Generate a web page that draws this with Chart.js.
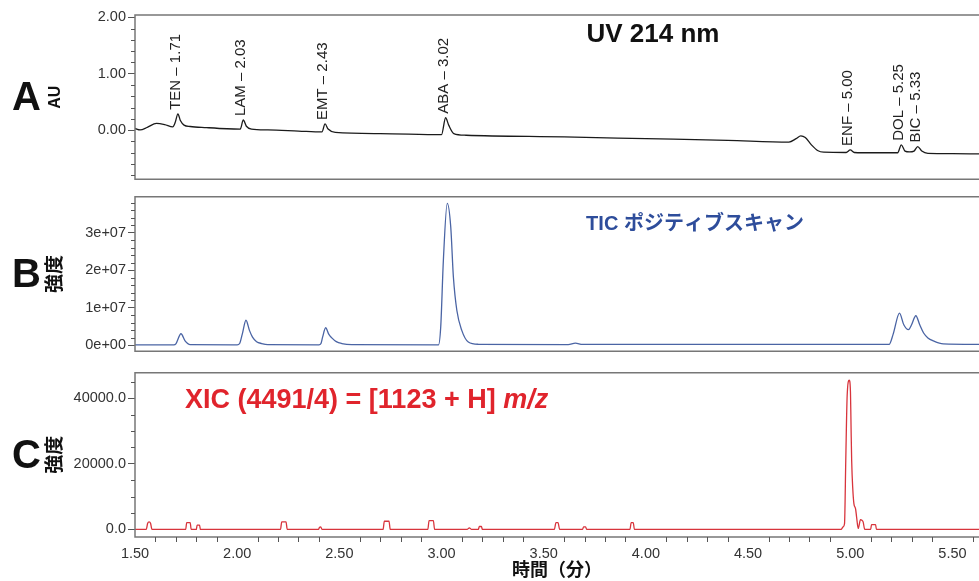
<!DOCTYPE html>
<html lang="ja">
<head>
<meta charset="utf-8">
<script src="https://cdn.jsdelivr.net/npm/chart.js@4.4.1/dist/chart.umd.min.js"></script>
<style>
  html, body { margin: 0; padding: 0; background: #fff; }
  body { width: 979px; height: 581px; position: relative; overflow: hidden; }
  canvas { position: absolute; left: 0; }
  #panel-a { top: 0; }
  #panel-b { top: 186px; }
  #panel-c { top: 362px; }
</style>
</head>
<body>
<canvas id="panel-a" width="979" height="190"></canvas>
<canvas id="panel-b" width="979" height="176"></canvas>
<canvas id="panel-c" width="979" height="219"></canvas>
<script>
/* -------------------------------------------------- */
/* Chromatogram panels -- UV / TIC / XIC              */
/* -------------------------------------------------- */

const LATIN = "'Liberation Sans', Arial, sans-serif";
const CJK   = "'Liberation Sans', 'Noto Sans CJK JP', sans-serif";

Chart.defaults.font.family = LATIN;
Chart.defaults.color       = '#333';

// shared retention-time axis (min)
const X_MIN = 1.5;
const X_MAX = 5.63;
const X_TICKS  = [1.5, 2.0, 2.5, 3.0, 3.5, 4.0, 4.5, 5.0, 5.5];
const X_LABELS = ['1.50', '2.00', '2.50', '3.00', '3.50', '4.00', '4.50', '5.00', '5.50'];

// A: UV 214 nm trace
const UV_TIME = [1.50, 1.525, 1.56, 1.605, 1.645, 1.685, 1.697, 1.71, 1.722, 1.74, 1.77, 1.85, 1.95,
  2.015, 2.03, 2.045, 2.07, 2.15, 2.30, 2.415, 2.43, 2.445, 2.48, 2.70, 3.00, 3.02, 3.035, 3.06, 3.12,
  3.60, 4.00, 4.40, 4.70, 4.735, 4.758, 4.78, 4.81, 4.84, 4.87, 4.98, 5.00, 5.02, 5.06, 5.232, 5.25,
  5.268, 5.29, 5.312, 5.33, 5.35, 5.38, 5.50, 5.63];
const UV_AU = [0.03, 0.005, 0.05, 0.12, 0.10, 0.06, 0.14, 0.29, 0.17, 0.09, 0.065, 0.045, 0.025,
  0.02, 0.18, 0.07, 0.02, 0.005, -0.015, -0.03, 0.11, 0.02, -0.04, -0.06, -0.08, 0.22, 0.09, -0.06, -0.09,
  -0.12, -0.15, -0.18, -0.21, -0.15, -0.10, -0.13, -0.26, -0.36, -0.39, -0.395, -0.35, -0.395, -0.40, -0.40, -0.26,
  -0.37, -0.385, -0.37, -0.29, -0.37, -0.41, -0.415, -0.42];
const UV_PEAK_NAMES = ['TEN', 'LAM', 'EMT', 'ABA', 'ENF', 'DOL', 'BIC'];
const UV_PEAK_RT    = [1.71, 2.03, 2.43, 3.02, 5.00, 5.25, 5.33];
const UV_Y_TICKS  = [0, 1, 2];
const UV_Y_LABELS = ['0.00', '1.00', '2.00'];

// B: TIC positive scan
const TIC_TIME = [1.50, 1.69, 1.70, 1.725, 1.745, 1.77, 2.00, 2.012, 2.025, 2.043, 2.06, 2.075, 2.095,
  2.12, 2.15, 2.40, 2.41, 2.418, 2.433, 2.448, 2.463, 2.485, 2.512, 2.56, 2.985, 2.996, 3.009, 3.028,
  3.045, 3.058, 3.075, 3.099, 3.131, 3.18, 3.62, 3.655, 3.69, 5.19, 5.21, 5.241, 5.262, 5.285, 5.30,
  5.321, 5.34, 5.359, 5.38, 5.407, 5.455, 5.63];
const TIC_INTENSITY = [0.015e7, 0.015e7, 0.04e7, 0.31e7, 0.12e7, 0.02e7, 0.015e7, 0.05e7, 0.30e7, 0.67e7,
  0.40e7, 0.22e7, 0.10e7, 0.05e7, 0.02e7, 0.015e7, 0.05e7, 0.22e7, 0.47e7, 0.30e7, 0.20e7, 0.10e7, 0.05e7,
  0.02e7, 0.015e7, 0.49e7, 2.27e7, 3.78e7, 3.16e7, 1.82e7, 0.93e7, 0.40e7, 0.09e7, 0.03e7, 0.02e7, 0.06e7,
  0.025e7, 0.025e7, 0.30e7, 0.86e7, 0.55e7, 0.42e7, 0.55e7, 0.79e7, 0.55e7, 0.33e7, 0.20e7, 0.12e7, 0.04e7,
  0.025e7];
const TIC_Y_TICKS  = [0, 1e7, 2e7, 3e7];
const TIC_Y_LABELS = ['0e+00', '1e+07', '2e+07', '3e+07'];

// C: XIC for m/z 1123 + H
const XIC_TIME = [
  1.50, 1.555, 1.562, 1.569, 1.576, 1.583,
  1.748, 1.753, 1.770, 1.775,
  1.800, 1.804, 1.816, 1.820,
  2.212, 2.218, 2.239, 2.245,
  2.398, 2.403, 2.409, 2.415,
  2.714, 2.720, 2.743, 2.749,
  2.933, 2.939, 2.960, 2.966,
  3.125, 3.136, 3.147,
  3.180, 3.185, 3.195, 3.200,
  3.552, 3.560, 3.570, 3.578,
  3.690, 3.695, 3.705, 3.710,
  3.922, 3.928, 3.938, 3.944,
  4.955, 4.965, 4.972, 4.978, 4.985, 4.995, 5.001, 5.004, 5.007, 5.012, 5.018, 5.026, 5.031, 5.039,
  5.050, 5.057, 5.063, 5.071,
  5.100, 5.104, 5.124, 5.128,
  5.63];
const XIC_INTENSITY = [
  0, 0, 1900, 2300, 1900, 0,
  0, 2100, 2100, 0,
  0, 1300, 1300, 0,
  0, 2300, 2300, 0,
  0, 700, 800, 0,
  0, 2500, 2500, 0,
  0, 2700, 2700, 0,
  0, 500, 0,
  0, 900, 900, 0,
  0, 2100, 2100, 0,
  0, 800, 800, 0,
  0, 2100, 2100, 0,
  0, 800, 1800, 20900, 41000, 45500, 42000, 30900, 20900, 12800, 7800, 6300, 3800, 300,
  3000, 2800, 2300, 0,
  0, 1500, 1500, 0,
  0];
const XIC_Y_TICKS  = [0, 20000, 40000];
const XIC_Y_LABELS = ['0.0', '20000.0', '40000.0'];

/* -------------------------------------------------- */
/* Helpers */
/* -------------------------------------------------- */

function points(xs, ys) {
  return xs.map((x, i) => ({ x, y: ys[i] }));
}

// evenly spaced minor positions, skipping the labelled ones
function minorSteps(from, to, step, majors) {
  const out = [];
  const n = Math.round((to - from) / step);
  for (let i = 0; i <= n; i++) {
    const v = from + i * step;
    if (!majors.some(m => Math.abs(m - v) < step / 10)) out.push(v);
  }
  return out;
}

// open frame: top, left and bottom edges (right edge runs off the page)
const framePlugin = {
  id: 'frame',
  afterDraw(chart) {
    const { ctx, chartArea: a } = chart;
    ctx.save();
    ctx.strokeStyle = '#777';
    ctx.lineWidth = 1.5;
    ctx.beginPath();
    ctx.moveTo(chart.width + 5, a.top);
    ctx.lineTo(a.left, a.top);
    ctx.lineTo(a.left, a.bottom);
    ctx.lineTo(chart.width + 5, a.bottom);
    ctx.stroke();
    ctx.restore();
  },
};

const minorTickPlugin = {
  id: 'minorTicks',
  afterDraw(chart, args, opts) {
    const { ctx, chartArea: a, scales } = chart;
    ctx.save();
    ctx.strokeStyle = '#555';
    ctx.lineWidth = 1;
    ctx.beginPath();
    (opts.y || []).forEach(v => {
      const py = Math.round(scales.y.getPixelForValue(v)) + 0.5;
      ctx.moveTo(a.left - 4, py);
      ctx.lineTo(a.left, py);
    });
    (opts.x || []).forEach(v => {
      const px = Math.round(scales.x.getPixelForValue(v)) + 0.5;
      ctx.moveTo(px, a.bottom);
      ctx.lineTo(px, a.bottom + 5);
    });
    ctx.stroke();
    ctx.restore();
  },
};

// panel letter, heading and peak annotations
const panelTextPlugin = {
  id: 'panelText',
  afterDraw(chart, args, o) {
    const { ctx, chartArea: a, scales } = chart;
    ctx.save();
    ctx.fillStyle = '#111';
    ctx.font = `bold 40px ${LATIN}`;
    ctx.textAlign = 'left';
    ctx.textBaseline = 'alphabetic';
    ctx.fillText(o.letter, 12, (a.top + a.bottom) / 2 + 13);

    if (o.heading) {
      const h = o.heading;
      ctx.fillStyle = h.color;
      ctx.textBaseline = 'alphabetic';
      const fonts = h.parts.map(p => `${p.italic ? 'italic ' : ''}bold ${h.size}px ${CJK}`);
      const widths = h.parts.map((p, i) => { ctx.font = fonts[i]; return ctx.measureText(p.text).width; });
      const total = widths.reduce((s, w) => s + w, 0);
      let x = h.align === 'center' ? h.x - total / 2 : h.x;
      h.parts.forEach((p, i) => {
        ctx.font = fonts[i];
        ctx.fillText(p.text, x, h.y);
        x += widths[i];
      });
    }

    (o.peaks || []).forEach(p => {
      const x = scales.x.getPixelForValue(p.rt) - 2;
      const y = scales.y.getPixelForValue(p.value) - 4;
      ctx.save();
      ctx.translate(x, y);
      ctx.rotate(-Math.PI / 2);
      ctx.fillStyle = '#222';
      ctx.font = `15px ${LATIN}`;
      ctx.textAlign = 'left';
      ctx.textBaseline = 'middle';
      ctx.fillText(`${p.name} – ${p.rt.toFixed(2)}`, 0, 0);
      ctx.restore();
    });
    ctx.restore();
  },
};

function yScale(cfg) {
  return {
    min: cfg.min,
    max: cfg.max,
    afterBuildTicks: s => { s.ticks = cfg.ticks.map(v => ({ value: v })); },
    afterFit: s => { s.width = 135 - cfg.padLeft; },
    ticks: {
      autoSkip: false,
      padding: 2,
      color: '#333',
      font: { size: 14.5 },
      callback: (v, i) => cfg.labels[i],
    },
    grid: { drawOnChartArea: false, drawTicks: true, tickLength: 7, tickColor: '#555', tickWidth: 1 },
    border: { display: false },
    title: {
      display: true,
      text: cfg.title,
      color: '#111',
      padding: 0,
      font: { size: cfg.titleSize, weight: 'bold', family: cfg.titleFamily, lineHeight: 1 },
    },
  };
}

function xScale(show) {
  const base = { type: 'linear', min: X_MIN, max: X_MAX };
  if (!show) return Object.assign(base, { display: false });
  return Object.assign(base, {
    afterBuildTicks: s => { s.ticks = X_TICKS.map(v => ({ value: v })); },
    afterFit: s => { s.height = 44; },
    ticks: { autoSkip: false, maxRotation: 0, padding: 8, color: '#333', font: { size: 14.5 },
      callback: (v, i) => X_LABELS[i] },
    grid: { drawOnChartArea: false, drawTicks: false },
    border: { display: false },
    title: {
      display: true,
      text: '時間（分）',
      color: '#111',
      padding: { top: 0, bottom: 1 },
      font: { size: 18, weight: 'bold', family: CJK, lineHeight: 1 },
    },
  });
}

function renderPanel(id, p) {
  const ctx = document.getElementById(id).getContext('2d');
  return new Chart(ctx, {
    type: 'line',
    data: {
      datasets: [{
        data: points(p.time, p.values),
        borderColor: p.color,
        borderWidth: 1.3,
        pointRadius: 0,
        fill: false,
        cubicInterpolationMode: 'monotone',
      }],
    },
    plugins: [framePlugin, minorTickPlugin, panelTextPlugin],
    options: {
      responsive: false,
      animation: false,
      devicePixelRatio: 1,
      layout: { padding: p.padding },
      plugins: {
        legend: { display: false },
        tooltip: { enabled: false },
        minorTicks: { y: p.minorY, x: p.minorX },
        panelText: { letter: p.letter, heading: p.heading, peaks: p.peaks },
      },
      scales: {
        x: xScale(p.showX),
        y: yScale(p.y),
      },
    },
  });
}

/* -------------------------------------------------- */
/* Panels */
/* -------------------------------------------------- */

const uvPeaks = UV_PEAK_NAMES.map((name, i) => ({
  name,
  rt: UV_PEAK_RT[i],
  value: UV_AU[UV_TIME.indexOf(UV_PEAK_RT[i])],
}));

renderPanel('panel-a', {
  letter: 'A',
  time: UV_TIME,
  values: UV_AU,
  color: '#1b1b1b',
  padding: { left: 48, top: 15, right: 0, bottom: 9 },
  showX: false,
  y: { min: -0.87, max: 2.04, ticks: UV_Y_TICKS, labels: UV_Y_LABELS, padLeft: 48,
       title: 'AU', titleSize: 16, titleFamily: LATIN },
  minorY: minorSteps(-0.8, 2.0, 0.2, UV_Y_TICKS),
  heading: { x: 653, y: 42, size: 26, align: 'center', color: '#111', parts: [{ text: 'UV 214 nm' }] },
  peaks: uvPeaks,
});

renderPanel('panel-b', {
  letter: 'B',
  time: TIC_TIME,
  values: TIC_INTENSITY,
  color: '#4a64a4',
  padding: { left: 46, top: 7, right: 0, bottom: 4 },
  showX: false,
  y: { min: -0.157e7, max: 3.96e7, ticks: TIC_Y_TICKS, labels: TIC_Y_LABELS, padLeft: 46,
       title: '強度', titleSize: 19, titleFamily: CJK },
  minorY: minorSteps(0, 3.8e7, 0.2e7, TIC_Y_TICKS),
  heading: { x: 695, y: 44, size: 20, align: 'center', color: '#2e4d9b',
             parts: [{ text: 'TIC ポジティブスキャン' }] },
});

renderPanel('panel-c', {
  letter: 'C',
  time: XIC_TIME,
  values: XIC_INTENSITY,
  color: '#d8343c',
  padding: { left: 46, top: 9, right: 0, bottom: 0 },
  showX: true,
  y: { min: -2300, max: 47800, ticks: XIC_Y_TICKS, labels: XIC_Y_LABELS, padLeft: 46,
       title: '強度', titleSize: 19, titleFamily: CJK },
  minorY: minorSteps(0, 45000, 5000, XIC_Y_TICKS),
  minorX: minorSteps(1.5, 5.6, 0.1, X_TICKS),
  heading: { x: 185, y: 46, size: 27, align: 'left', color: '#e0242c',
             parts: [{ text: 'XIC (4491/4) = [1123 + H] ' }, { text: 'm/z', italic: true }] },
});
</script>
</body>
</html>
